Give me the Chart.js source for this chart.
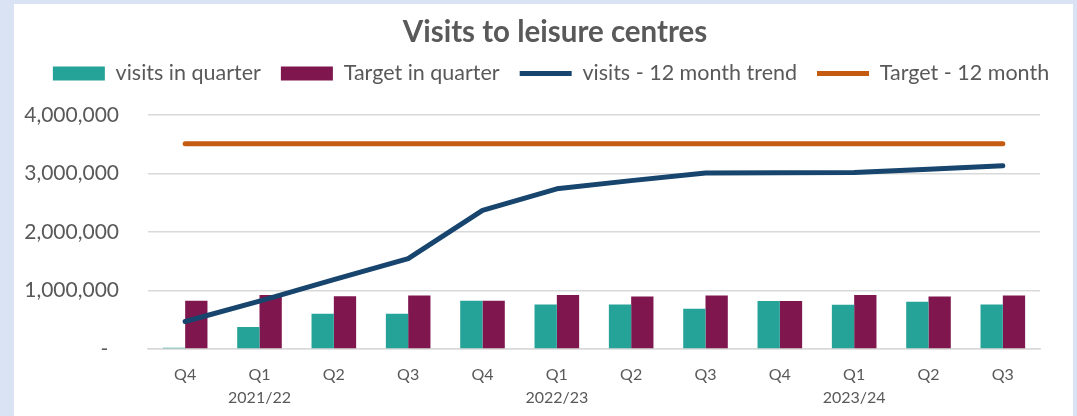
<!DOCTYPE html>
<html lang="en">
  <head>
    <meta charset="UTF-8" />
    <title>Visits to leisure centres</title>
    <script src="https://cdn.jsdelivr.net/npm/chart.js@4.4.1/dist/chart.umd.min.js"></script>
  </head>
  <style>
    html,
    body {
      margin: 0;
      padding: 0;
      background-color: #dae3f3;
      overflow: hidden;
    }

    .chart-container {
      position: absolute;
      left: 14px;
      top: 4px;
      width: 1059px;
      height: 412px;
      background-color: #ffffff;
    }
  </style>
  <body>
    <div class="chart-container">
      <canvas id="visitsChart"></canvas>
    </div>

    <script>
      // quarters and the financial year shown under each Q1
      const quarters = ["Q4", "Q1", "Q2", "Q3", "Q4", "Q1", "Q2", "Q3", "Q4", "Q1", "Q2", "Q3"];
      const years = ["", "2021/22", "", "", "", "2022/23", "", "", "", "2023/24", "", ""];

      const visitsInQuarter = [20000, 376000, 605000, 605000, 825000, 760000, 760000, 688000, 820000, 758000, 810000, 760000];
      const targetInQuarter = [825000, 925000, 903000, 915000, 825000, 925000, 900000, 915000, 820000, 925000, 900000, 915000];
      const visitsTrend = [470000, 820000, 1186000, 1545000, 2370000, 2740000, 2880000, 3010000, 3015000, 3020000, 3075000, 3135000];
      const target12Month = [3510000, 3510000, 3510000, 3510000, 3510000, 3510000, 3510000, 3510000, 3510000, 3510000, 3510000, 3510000];

      const yTicks = [0, 1000000, 2000000, 3000000, 4000000];

      const labels = quarters.map((q, i) => (years[i] ? [q, years[i]] : q));

      const textColor = "#595959";
      const gridColor = "#d9d9d9";
      const fontFamily = "Lato, 'Liberation Sans', sans-serif";

      const ctx = document.getElementById("visitsChart").getContext("2d");

      // push the plot area down below the legend, and nudge title + legend right a bit
      const headerTweak = {
        id: "headerTweak",
        beforeInit(chart) {
          const fit = chart.legend.fit;
          chart.legend.fit = function () {
            fit.bind(chart.legend)();
            this.height += 21;
          };
        },
        afterLayout(chart) {
          chart.legend.left += 15;
          chart.titleBlock.left += 23;
        },
      };

      new Chart(ctx, {
        data: {
          labels: labels,
          datasets: [
            {
              type: "bar",
              label: "visits in quarter",
              data: visitsInQuarter,
              backgroundColor: "#26a398",
              pointStyle: "rect",
              categoryPercentage: 0.6,
              barPercentage: 1.0,
              order: 2,
            },
            {
              type: "bar",
              label: "Target in quarter",
              data: targetInQuarter,
              backgroundColor: "#7f174e",
              pointStyle: "rect",
              categoryPercentage: 0.6,
              barPercentage: 1.0,
              order: 2,
            },
            {
              type: "line",
              label: "visits - 12 month trend",
              data: visitsTrend,
              borderColor: "#17456e",
              backgroundColor: "#17456e",
              borderWidth: 5,
              borderCapStyle: "round",
              borderJoinStyle: "round",
              pointRadius: 0,
              pointStyle: "line",
              tension: 0,
              order: 1,
            },
            {
              type: "line",
              label: "Target - 12 month",
              data: target12Month,
              borderColor: "#c55a11",
              backgroundColor: "#c55a11",
              borderWidth: 5,
              borderCapStyle: "round",
              borderJoinStyle: "round",
              pointRadius: 0,
              pointStyle: "line",
              tension: 0,
              order: 1,
            },
          ],
        },
        options: {
          responsive: true,
          maintainAspectRatio: false,
          animation: false,
          layout: {
            padding: { left: 0, right: 0, top: 0, bottom: 7 },
          },
          scales: {
            x: {
              afterFit: (scale) => {
                scale.height = 60;
              },
              grid: { display: false, drawTicks: false },
              border: { color: gridColor, width: 1.5 },
              ticks: {
                color: textColor,
                padding: 15,
                maxRotation: 0,
                autoSkip: false,
                font: { family: fontFamily, size: 16, lineHeight: 1.4 },
              },
            },
            y: {
              min: 0,
              max: 4000000,
              afterFit: (scale) => {
                scale.width = 134;
              },
              afterBuildTicks: (scale) => {
                scale.ticks = yTicks.map((v) => ({ value: v }));
              },
              grid: { color: gridColor, lineWidth: 1.5, drawTicks: false },
              border: { display: false },
              ticks: {
                color: textColor,
                padding: 29,
                font: { family: fontFamily, size: 21 },
                callback: (v) => (v === 0 ? "-  " : v.toLocaleString("en-US")),
              },
            },
            // empty axis that only keeps space on the right of the plot
            yRight: {
              position: "right",
              afterFit: (scale) => {
                scale.width = 33;
              },
              grid: { display: false, drawTicks: false },
              border: { display: false },
              ticks: { display: false },
            },
          },
          plugins: {
            title: {
              display: true,
              text: "Visits to leisure centres",
              color: textColor,
              font: { family: fontFamily, size: 29.5, weight: "bold", lineHeight: 0.7 },
              padding: { top: 18, bottom: 0 },
            },
            legend: {
              position: "top",
              labels: {
                color: textColor,
                font: { family: fontFamily, size: 21.5 },
                usePointStyle: true,
                pointStyleWidth: 52,
                boxHeight: 14,
                padding: 20,
                sort: (a, b) => a.datasetIndex - b.datasetIndex,
              },
            },
            tooltip: { enabled: false },
          },
        },
        plugins: [headerTweak],
      });
    </script>
  </body>
</html>
